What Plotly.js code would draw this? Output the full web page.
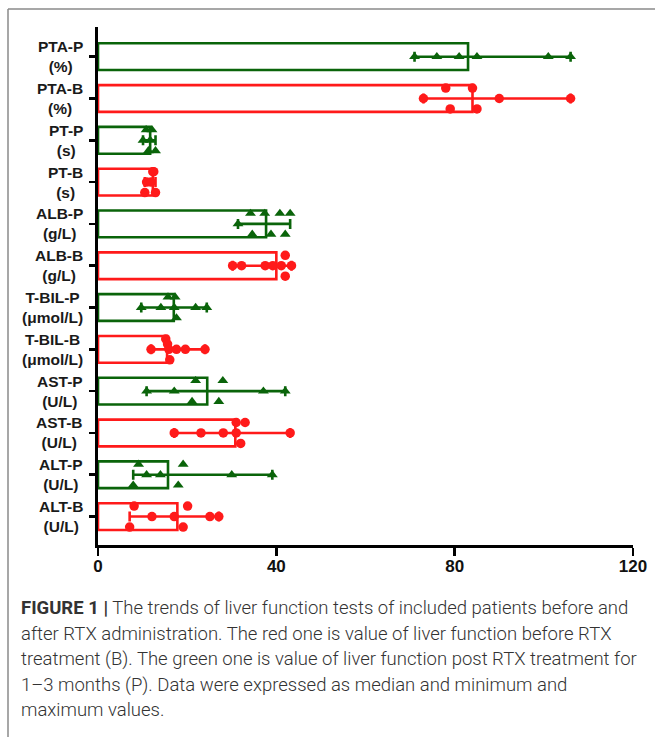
<!DOCTYPE html>
<html>
<head>
<meta charset="utf-8">
<script src="https://cdn.plot.ly/plotly-3.0.1.min.js"></script>
<style>
html,body{margin:0;padding:0;background:#fff;}
#chart{width:655px;height:737px;}
</style>
</head>
<body>
<div id="chart"></div>
<script>
// ---------- data ----------
const categories = ['PTA-P<br>(%)','PTA-B<br>(%)','PT-P<br>(s)','PT-B<br>(s)','ALB-P<br>(g/L)','ALB-B<br>(g/L)',
  'T-BIL-P<br>(μmol/L)','T-BIL-B<br>(μmol/L)','AST-P<br>(U/L)','AST-B<br>(U/L)','ALT-P<br>(U/L)','ALT-B<br>(U/L)'];
const groups = ['P','B','P','B','P','B','P','B','P','B','P','B'];
const medians = [83, 84, 11.7, 12.3, 37.7, 40.0, 17.0, 15.5, 24.5, 30.8, 15.7, 17.8];
const pointValues = [
  [71, 76, 81, 85, 101, 106],
  [73, 78, 79, 84, 85, 90, 106],
  [10.1, 10.8, 11.3, 11.7, 12.1, 12.9],
  [10.5, 10.9, 11.9, 12.3, 12.5, 12.9],
  [31.4, 34.2, 34.6, 37.4, 38.8, 40.8, 42.0, 43.1],
  [30.2, 32.2, 37.5, 39.2, 41.1, 42.0, 42.0, 43.4],
  [9.7, 14.1, 15.7, 17.1, 17.3, 17.6, 21.9, 24.4],
  [11.9, 15.2, 15.6, 15.9, 16.1, 17.6, 19.6, 24.0],
  [10.9, 17.1, 21.1, 21.9, 27.1, 28.0, 37.1, 42.0],
  [17.1, 23.1, 28.1, 31.0, 31.0, 32.0, 33.0, 43.1],
  [7.9, 9.1, 10.9, 14.0, 18.0, 19.1, 30.0, 39.1],
  [7.1, 8.1, 12.1, 17.1, 19.1, 20.1, 25.1, 27.1]
];
// vertical lane of each dot in the scatter (-1 above the row centre, 0 centre, 1 below)
const pointLanes = [
  [0, 0, 0, 0, 0, 0],
  [0, -1, 1, -1, 1, 0, 0],
  [0, -1, 1, 0, -1, 1],
  [1, 0, 0, -1, -1, 1],
  [0, -1, 1, -1, 1, -1, 1, -1],
  [0, 0, 0, 0, 0, -1, 1, 0],
  [0, 0, -1, 0, -1, 1, 0, 0],
  [0, -1, -0.5, 0, 1, 0, 0, 0],
  [0, 0, 1, -1, 1, -1, 0, 0],
  [0, 0, 0, -1, 0, 1, -1, 0],
  [1, -1, 0, 0, 1, -1, 0, 0],
  [1, -1, 0, 0, 1, -1, 0, 0]
];
const xTicks = [0, 40, 80, 120];
const captionLines = [
  '<b>FIGURE 1 |</b> The trends of liver function tests of included patients before and',
  'after RTX administration. The red one is value of liver function before RTX',
  'treatment (B). The green one is value of liver function post RTX treatment for',
  '1–3 months (P). Data were expressed as median and minimum and',
  'maximum values.'
];

// ---------- style ----------
const GREEN = '#0a640a', RED = '#ff1a1a';
const colorOf = g => g === 'P' ? GREEN : RED;
const symbolOf = g => g === 'P' ? 'triangle-up' : 'circle';
const W = 655, H = 737;
const M = {l: 98, r: 22, t: 27, b: 192};
const pw = W - M.l - M.r, ph = H - M.t - M.b;
const px2x = px => (px - M.l) / pw;
const py2y = py => (H - M.b - py) / ph;
const LANE = 0.25;

const idx = categories.map((_, i) => i);
const traces = [];
// bars (median), outlined
traces.push({
  type: 'bar', orientation: 'h', x: medians, y: idx, width: 0.64,
  marker: {color: 'rgba(0,0,0,0)', line: {color: groups.map(colorOf), width: 2.6}},
  hoverinfo: 'skip', showlegend: false
});
// min-max range bars
idx.forEach(i => {
  const mn = Math.min(...pointValues[i]), mx = Math.max(...pointValues[i]);
  traces.push({
    type: 'scatter', mode: 'markers', x: [medians[i]], y: [i],
    marker: {size: 1, color: 'rgba(0,0,0,0)'},
    error_x: {type: 'data', symmetric: false, array: [mx - medians[i]], arrayminus: [medians[i] - mn],
      color: colorOf(groups[i]), thickness: 2.6, width: 5},
    hoverinfo: 'skip', showlegend: false
  });
});
// individual points
idx.forEach(i => {
  traces.push({
    type: 'scatter', mode: 'markers',
    x: pointValues[i], y: pointLanes[i].map(l => i + l * LANE),
    marker: {symbol: symbolOf(groups[i]), size: 9.5, color: colorOf(groups[i]), line: {width: 0}},
    hoverinfo: 'skip', showlegend: false
  });
});

const annotations = idx.map(i => ({
  xref: 'paper', yref: 'y', x: px2x(85), y: i, xanchor: 'right', yanchor: 'middle',
  text: '<b>' + categories[i] + '</b>', showarrow: false, align: 'center',
  font: {family: 'Arial, Liberation Sans, sans-serif', size: 15.5, color: '#1a1a1a'}
}));
captionLines.forEach((t, k) => {
  annotations.push({
    xref: 'paper', yref: 'paper', x: px2x(19), y: py2y(608 + k * 25.5),
    xanchor: 'left', yanchor: 'middle', text: t, showarrow: false, align: 'left',
    font: {family: 'Roboto, Liberation Sans, sans-serif', size: 18.5, color: '#333', weight: 300}
  });
});

const shapes = [
  {type: 'line', xref: 'paper', yref: 'paper', x0: px2x(8), x1: px2x(655), y0: py2y(9), y1: py2y(9),
   line: {color: '#8a8a8a', width: 1.5}},
  {type: 'line', xref: 'paper', yref: 'paper', x0: px2x(8), x1: px2x(8), y0: py2y(9), y1: py2y(737),
   line: {color: '#8a8a8a', width: 1.5}}
];

const layout = {
  width: W, height: H, margin: M, paper_bgcolor: '#fff', plot_bgcolor: '#fff',
  showlegend: false, hovermode: false, barmode: 'overlay',
  xaxis: {range: [0, 120], tickvals: xTicks, ticktext: xTicks.map(String), showgrid: false, zeroline: false,
    showline: true, linecolor: '#000', linewidth: 2.6, ticks: 'outside', ticklen: 8, tickwidth: 2.6, tickcolor: '#000',
    ticklabelstandoff: -4,
    tickfont: {family: 'Arial, Liberation Sans, sans-serif', size: 17, color: '#111', weight: 'bold'}},
  yaxis: {range: [11.68, -0.71], tickvals: idx, showticklabels: false, showgrid: false, zeroline: false,
    showline: true, linecolor: '#000', linewidth: 2.6, ticks: 'outside', ticklen: 6, tickwidth: 2.6, tickcolor: '#000'},
  annotations: annotations, shapes: shapes
};

Plotly.newPlot('chart', traces, layout, {staticPlot: true, displayModeBar: false});
</script>
</body>
</html>
